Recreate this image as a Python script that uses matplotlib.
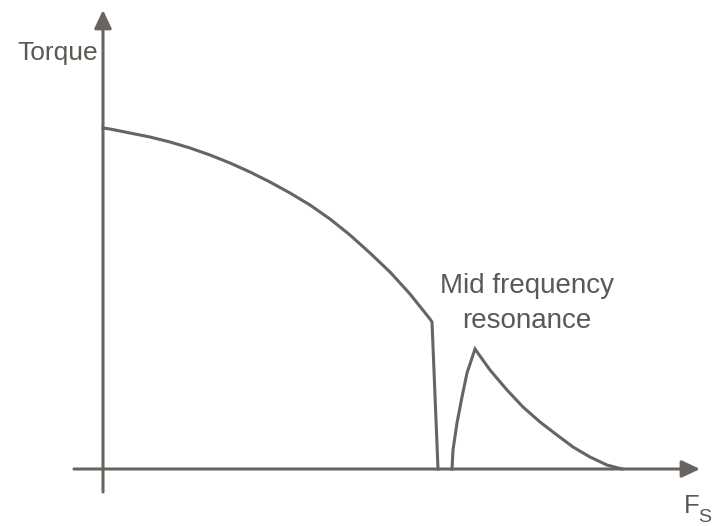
import matplotlib
matplotlib.use("Agg")
import matplotlib.pyplot as plt

# Torque vs stepping frequency curve (diagram units)
main_x = [0, 7, 27, 47, 67, 87, 107, 127, 147, 167, 187, 207, 227, 247, 267, 287, 307, 327, 329]
main_y = [341, 340, 336, 332, 327, 321, 314, 306, 297, 287, 276, 264, 250, 234, 216, 197, 175, 150, 147]
dip_x = [329, 335]
dip_y = [147, 0]
rise_x = [349, 350, 354, 359, 364, 372]
rise_y = [0, 19, 46, 72, 96, 120]
decay_x = [372, 387, 404, 420, 437, 454, 470, 487, 504, 519]
decay_y = [120, 99, 79, 62, 47, 34, 22, 12, 4, 0]

y_label = "Torque"
x_label_main = "F"
x_label_sub = "S"
annot_lines = ["Mid frequency", "resonance"]

col = "#69645f"
tcol = "#5c5853"
font = "Liberation Sans"

fig = plt.figure(figsize=(7.12, 5.26), dpi=100)
ax = fig.add_axes([0, 0, 1, 1])
ax.set_xlim(-103, 609)
ax.set_ylim(-57, 469)
ax.axis("off")

lw = 2.2
ax.plot(main_x + dip_x, main_y + dip_y, color=col, lw=lw, solid_joinstyle="round")
ax.plot(rise_x + decay_x[1:], rise_y + decay_y[1:], color=col, lw=lw, solid_joinstyle="miter")

arrow = dict(arrowstyle="-|>,head_length=0.55,head_width=0.26", color=col, lw=lw,
             shrinkA=0, shrinkB=0, mutation_scale=20)
ax.annotate("", xy=(0, 459), xytext=(0, -23), arrowprops=arrow)
ax.annotate("", xy=(597, 0), xytext=(-29, 0), arrowprops=arrow)

ax.text(-5, 409, y_label, ha="right", va="baseline", fontsize=19, family=font, color=tcol)
ax.text(424, 176, annot_lines[0], ha="center", va="baseline", fontsize=20, family=font, color=tcol)
ax.text(424, 141, annot_lines[1], ha="center", va="baseline", fontsize=20, family=font, color=tcol)
ax.text(581, -44, x_label_main, ha="left", va="baseline", fontsize=18.5, family=font, color=tcol)
ax.text(595, -53, x_label_sub, ha="left", va="baseline", fontsize=14, family=font, color=tcol)

fig.savefig("out.png", dpi=100)
